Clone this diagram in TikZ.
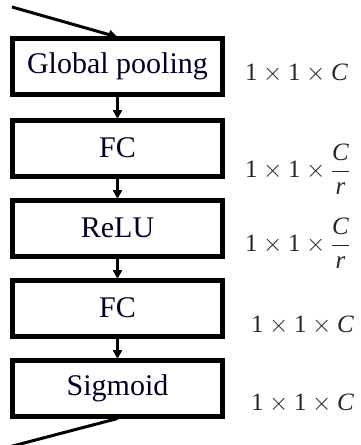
\documentclass[tikz,border=0pt]{standalone}
\usepackage{fontspec}
\setmainfont{Liberation Serif}
\usetikzlibrary{arrows.meta}
\newcommand{\unit}{\mbox{1}}
\newcommand{\chan}{\mbox{\itshape C}}
\newcommand{\ratio}{\mbox{\itshape r}}
\begin{document}
\begin{tikzpicture}[x=1pt,y=-1pt,
  block/.style={draw=black, line width=5pt, minimum width=210pt, minimum height=56pt,
    inner sep=0pt, font=\fontsize{30}{36}\selectfont, text=black!85!blue},
  dims/.style={anchor=west, inner sep=0pt, font=\fontsize{25}{30}\selectfont, text=black!85},
  flow/.style={line width=3pt, -{Triangle[width=9pt,length=9pt]}},
  feed/.style={line width=3pt}]
  \useasboundingbox (0,0) rectangle (360,445);
  \begin{scope}
    \clip (0,0) rectangle (360,445);
    % squeeze-and-excitation branch
    \node[block] (gp)  at (117.5,66)  {Global pooling};
    \node[block] (fc1) at (117.5,148) {FC};
    \node[block] (rl)  at (117.5,228) {ReLU};
    \node[block] (fc2) at (117.5,308) {FC};
    \node[block] (sg)  at (117.5,388) {Sigmoid};

    \coordinate (in)  at (12,7);
    \coordinate (out) at (5,448);
    \draw[flow] (in) -- ([yshift=-1.5pt]gp.north);
    \draw[flow] (gp.south)  -- ([yshift=-1.5pt]fc1.north);
    \draw[flow] (fc1.south) -- ([yshift=-1.5pt]rl.north);
    \draw[flow] (rl.south)  -- ([yshift=-1.5pt]fc2.north);
    \draw[flow] (fc2.south) -- ([yshift=-1.5pt]sg.north);
    \draw[feed] (sg.south) -- (out);

    % output sizes of each stage
    \node[dims] (d1) at (245,73)  {$\unit\times\unit\times\chan$};
    \node[dims] (d2) at (245,169) {$\unit\times\unit\times{\displaystyle\frac{\chan}{\ratio}}$};
    \node[dims] (d3) at (245,243) {$\unit\times\unit\times{\displaystyle\frac{\chan}{\ratio}}$};
    \node[dims] (d4) at (251,325) {$\unit\times\unit\times\chan$};
    \node[dims] (d5) at (251,403) {$\unit\times\unit\times\chan$};
  \end{scope}
\end{tikzpicture}
\end{document}
